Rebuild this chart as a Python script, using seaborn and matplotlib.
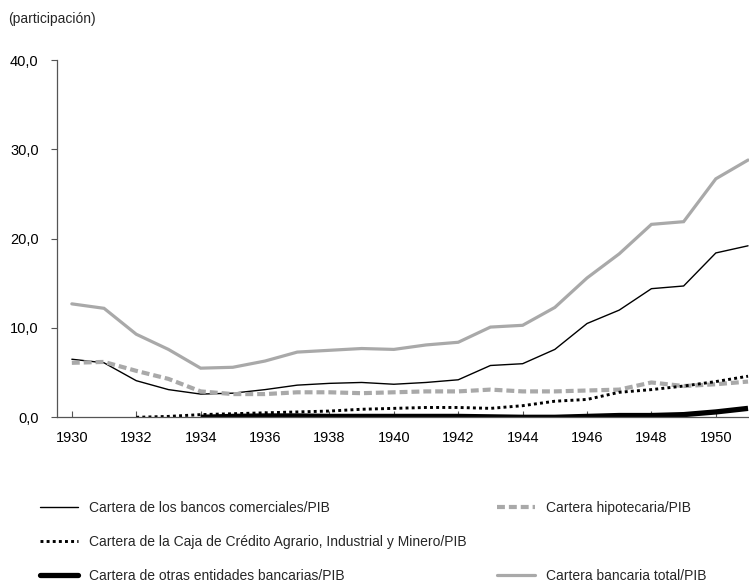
import numpy as np
import pandas as pd
import matplotlib
matplotlib.use("Agg")
import matplotlib.pyplot as plt
from matplotlib.lines import Line2D
import seaborn as sns

# ---- data ----
years = list(range(1930, 1952))
comerciales = [6.5, 6.1, 4.1, 3.1, 2.6, 2.7, 3.1, 3.6, 3.8, 3.9, 3.7, 3.9, 4.2, 5.8, 6.0, 7.6, 10.5, 12.0, 14.4, 14.7, 18.4, 19.2]
hipotecaria = [6.1, 6.2, 5.2, 4.3, 2.9, 2.6, 2.6, 2.8, 2.8, 2.7, 2.8, 2.9, 2.9, 3.1, 2.9, 2.9, 3.0, 3.1, 3.9, 3.5, 3.7, 4.0]
years_caja = list(range(1932, 1952))
caja = [0.0, 0.1, 0.3, 0.4, 0.5, 0.6, 0.7, 0.9, 1.0, 1.1, 1.1, 1.0, 1.3, 1.8, 2.0, 2.8, 3.1, 3.5, 4.0, 4.6]
years_otras = list(range(1934, 1952))
otras = [0.0, 0.1, 0.15, 0.15, 0.1, 0.1, 0.1, 0.1, 0.1, 0.05, 0.0, 0.0, 0.1, 0.2, 0.2, 0.3, 0.6, 1.0]
total = [12.7, 12.2, 9.3, 7.6, 5.5, 5.6, 6.3, 7.3, 7.5, 7.7, 7.6, 8.1, 8.4, 10.1, 10.3, 12.3, 15.6, 18.3, 21.6, 21.9, 26.7, 28.8]

labels = {
    "com": "Cartera de los bancos comerciales/PIB",
    "hip": "Cartera hipotecaria/PIB",
    "caja": "Cartera de la Caja de Crédito Agrario, Industrial y Minero/PIB",
    "otras": "Cartera de otras entidades bancarias/PIB",
    "tot": "Cartera bancaria total/PIB",
}
xticks = list(range(1930, 1951, 2))
yticks = [0, 10, 20, 30, 40]
ytick_labels = ["0,0", "10,0", "20,0", "30,0", "40,0"]

sns.set_style("white")
plt.rcParams["font.family"] = ["Liberation Sans", "DejaVu Sans"]

FS = 10
GRAY = "#a9a9a9"
W, H = 749, 584
fig = plt.figure(figsize=(W / 100, H / 100), dpi=100)
x0, y0, ytop = 56.7, 417.3, 60.0
ax = fig.add_axes([x0 / W, 1 - y0 / H, 1 - x0 / W, (y0 - ytop) / H])

df_main = pd.DataFrame({"year": years, "com": comerciales, "hip": hipotecaria, "tot": total})
df_caja = pd.DataFrame({"year": years_caja, "caja": caja})
df_otras = pd.DataFrame({"year": years_otras, "otras": otras})

sns.lineplot(data=df_main, x="year", y="tot", ax=ax, color=GRAY, linewidth=2.3,
             solid_joinstyle="miter")
sns.lineplot(data=df_main, x="year", y="com", ax=ax, color="black", linewidth=1.0)
sns.lineplot(data=df_main, x="year", y="hip", ax=ax, color=GRAY, linewidth=3.0,
             linestyle=(0, (1.9, 0.95)), dash_capstyle="butt")
sns.lineplot(data=df_caja, x="year", y="caja", ax=ax, color="black", linewidth=2.1,
             linestyle=(0, (1.0, 1.1)), dash_capstyle="butt")
sns.lineplot(data=df_otras, x="year", y="otras", ax=ax, color="black", linewidth=3.8,
             solid_capstyle="butt")

ax.set_xlim(1929.53, 1951.03)
ax.set_ylim(0, 40)
ax.set_xlabel("")
ax.set_ylabel("")
ax.set_xticks(xticks)
ax.set_xticklabels([str(t) for t in xticks])
ax.set_yticks(yticks)
ax.set_yticklabels(ytick_labels)

for s in ["top", "right"]:
    ax.spines[s].set_visible(False)
for s in ["left", "bottom"]:
    ax.spines[s].set_color("#555555")
    ax.spines[s].set_linewidth(0.9)

ax.tick_params(axis="y", direction="out", length=4, width=0.8, color="#555555",
               pad=9, labelsize=FS + 0.5, labelcolor="black", left=True)
ax.tick_params(axis="x", direction="in", length=4, width=0.8, color="#555555",
               pad=10, labelsize=FS + 0.5, labelcolor="black", bottom=True)

fig.text(8 / W, 1 - 19 / H, "(participación)", fontsize=FS, va="center", ha="left")

h_com = Line2D([], [], color="black", linewidth=1.0)
h_hip = Line2D([], [], color=GRAY, linewidth=3.0, linestyle=(0, (1.9, 0.95)), dash_capstyle="butt")
h_caja = Line2D([], [], color="black", linewidth=2.1, linestyle=(0, (1.0, 1.1)), dash_capstyle="butt")
h_otras = Line2D([], [], color="black", linewidth=3.8)
h_tot = Line2D([], [], color=GRAY, linewidth=2.3)
h_blank = Line2D([], [], alpha=0)

common = dict(frameon=False, fontsize=FS, handlelength=2.73, handletextpad=0.8,
              labelspacing=1.45, borderpad=0, borderaxespad=0, loc="upper left")
fig.legend([h_com, h_caja, h_otras], [labels["com"], labels["caja"], labels["otras"]],
           bbox_to_anchor=(40 / W, 1 - 501 / H), **common)
fig.legend([h_hip, h_blank, h_tot], [labels["hip"], "", labels["tot"]],
           bbox_to_anchor=(497 / W, 1 - 501 / H), **common)

fig.savefig("out.png", dpi=100)
